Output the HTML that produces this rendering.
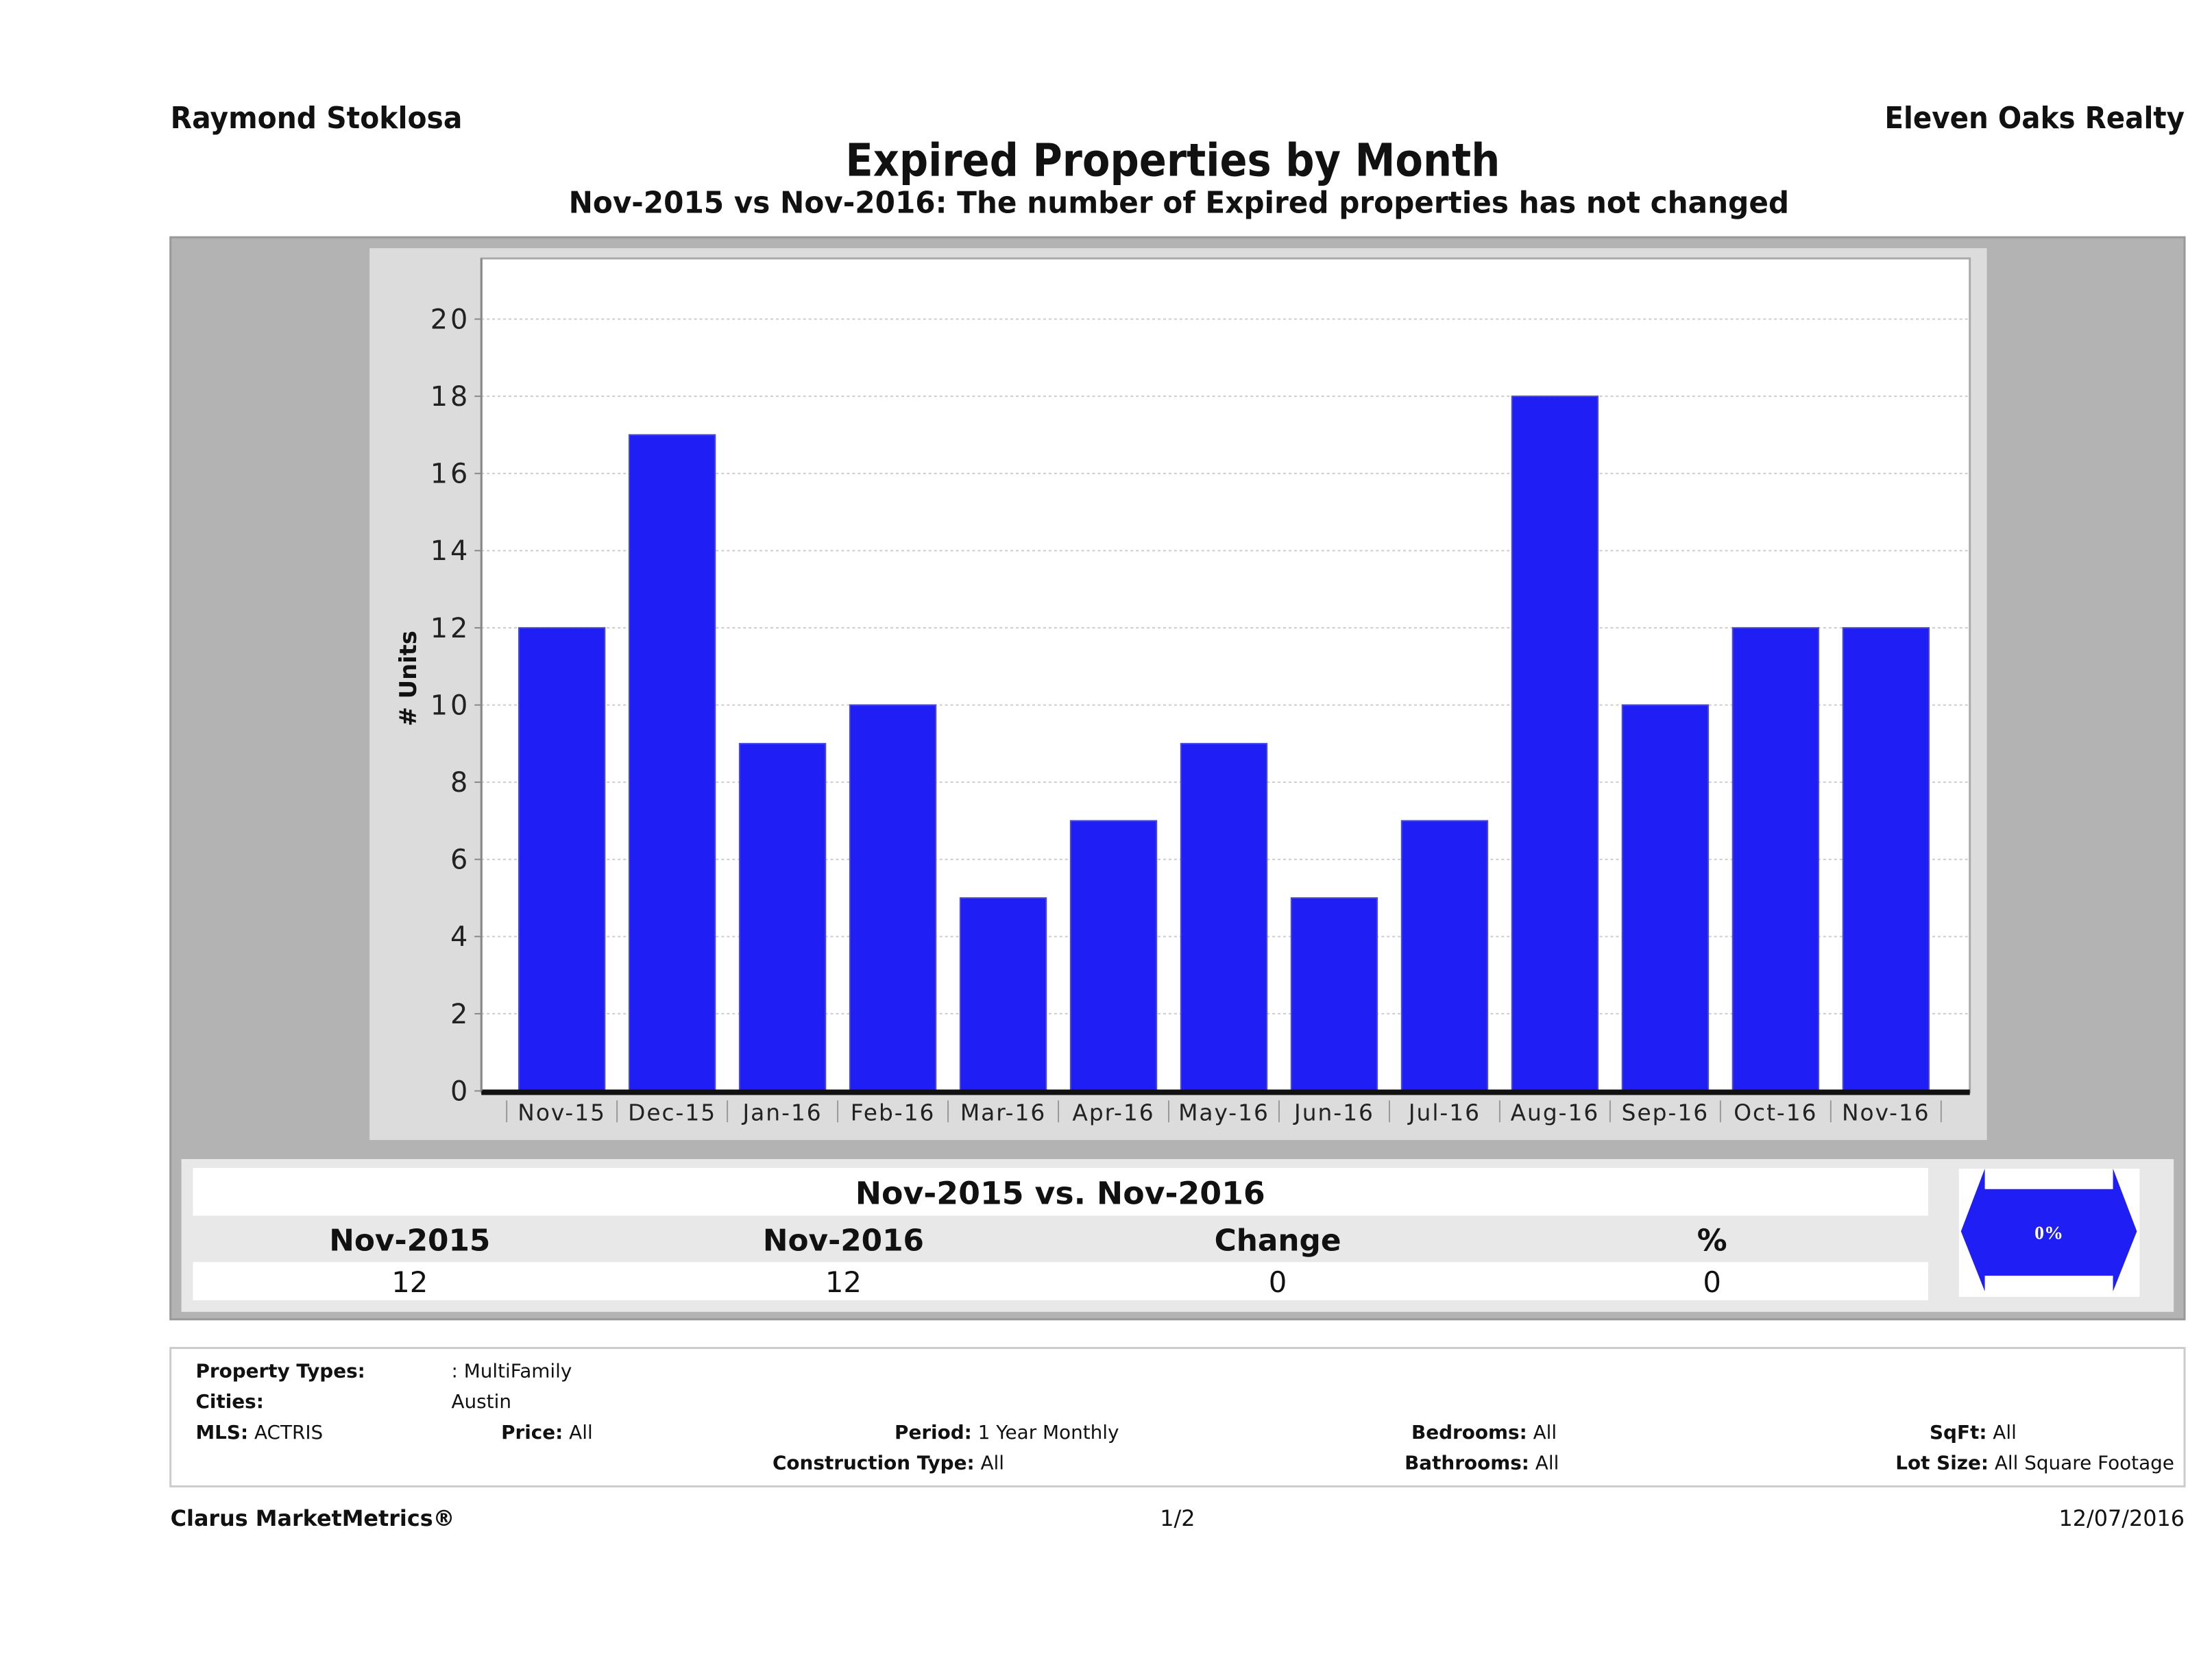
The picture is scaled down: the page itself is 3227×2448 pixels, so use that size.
<!DOCTYPE html>
<html><head><meta charset="utf-8"><style>
html,body{margin:0;padding:0;background:#fff;}
svg{display:block;font-family:"DejaVu Sans","Liberation Sans",sans-serif;}
</style></head><body>
<svg id="root" width="3227" height="2448" viewBox="0 0 3227 2448" xmlns="http://www.w3.org/2000/svg">
<g transform="scale(0.9947)">
<text x="250" y="188" font-size="44" font-weight="bold" fill="#111" textLength="428" lengthAdjust="spacingAndGlyphs">Raymond Stoklosa</text>
<text x="3204" y="188" font-size="44" font-weight="bold" fill="#111" text-anchor="end" textLength="440" lengthAdjust="spacingAndGlyphs">Eleven Oaks Realty</text>
<text x="1720" y="258" font-size="66" font-weight="bold" fill="#111" text-anchor="middle" textLength="960" lengthAdjust="spacingAndGlyphs">Expired Properties by Month</text>
<text x="1729" y="312" font-size="44" font-weight="bold" fill="#111" text-anchor="middle" textLength="1790" lengthAdjust="spacingAndGlyphs">Nov-2015 vs Nov-2016: The number of Expired  properties has not changed</text>

<rect x="250" y="348" width="2954" height="1587" fill="#b3b3b3" stroke="#999" stroke-width="3"/>
<rect x="542" y="364" width="2372" height="1308" fill="#dcdcdc"/>
<rect x="706" y="379" width="2183" height="1223" fill="#fff" stroke="#aaa" stroke-width="3"/>
<g id="grid"></g>
<g id="bars"></g>
<g id="axes"></g>
<text transform="translate(610,995) rotate(-90)" font-size="34" font-weight="bold" fill="#111" text-anchor="middle"># Units</text>

<rect x="266" y="1700" width="2922" height="224" fill="#e8e8e8"/>
<rect x="283" y="1713" width="2545" height="70" fill="#fff"/>
<text x="1555" y="1766" font-size="46" font-weight="bold" fill="#111" text-anchor="middle">Nov-2015 vs. Nov-2016</text>
<text x="601" y="1834" font-size="44" font-weight="bold" fill="#111" text-anchor="middle">Nov-2015</text>
<text x="1237" y="1834" font-size="44" font-weight="bold" fill="#111" text-anchor="middle">Nov-2016</text>
<text x="1874" y="1834" font-size="44" font-weight="bold" fill="#111" text-anchor="middle">Change</text>
<text x="2511" y="1834" font-size="44" font-weight="bold" fill="#111" text-anchor="middle">%</text>
<rect x="283" y="1851" width="2545" height="56" fill="#fff"/>
<text x="601" y="1895" font-size="42" fill="#111" text-anchor="middle">12</text>
<text x="1237" y="1895" font-size="42" fill="#111" text-anchor="middle">12</text>
<text x="1874" y="1895" font-size="42" fill="#111" text-anchor="middle">0</text>
<text x="2511" y="1895" font-size="42" fill="#111" text-anchor="middle">0</text>
<g transform="translate(17,9)">
<rect x="2856" y="1705" width="265" height="188" fill="#fff"/>
<polygon points="2894,1705 2894,1735 3082,1735 3082,1705 3117,1797 3082,1885 3082,1862 2894,1862 2894,1885 2859,1797" fill="#1e1ef5"/>
<text x="2988" y="1808" font-size="28" font-weight="bold" fill="#fff" text-anchor="middle" font-family="Liberation Serif, serif">0%</text>
</g>

<rect x="250" y="1977" width="2954" height="203" fill="#fff" stroke="#ccc" stroke-width="3"/>
<g font-size="28" fill="#111">
<text x="287" y="2020" font-weight="bold">Property Types:</text>
<text x="662" y="2020">: MultiFamily</text>
<text x="287" y="2065" font-weight="bold">Cities:</text>
<text x="662" y="2065">Austin</text>
<text x="287" y="2110"><tspan font-weight="bold">MLS:</tspan>  ACTRIS</text>
<text x="735" y="2110"><tspan font-weight="bold">Price:</tspan> All</text>
<text x="1312" y="2110"><tspan font-weight="bold">Period:</tspan> 1 Year Monthly</text>
<text x="2070" y="2110"><tspan font-weight="bold">Bedrooms:</tspan> All</text>
<text x="2830" y="2110"><tspan font-weight="bold">SqFt:</tspan>  All</text>
<text x="1133" y="2155"><tspan font-weight="bold">Construction Type:</tspan> All</text>
<text x="2060" y="2155"><tspan font-weight="bold">Bathrooms:</tspan> All</text>
<text x="2780" y="2155"><tspan font-weight="bold">Lot Size:</tspan>  All Square Footage</text>
</g>
<text x="250" y="2238" font-size="32" font-weight="bold" fill="#111">Clarus MarketMetrics®</text>
<text x="1727" y="2238" font-size="32" fill="#111" text-anchor="middle">1/2</text>
<text x="3204" y="2238" font-size="32" fill="#111" text-anchor="end">12/07/2016</text>
</g>
</svg>
<script>
const categories = ["Nov-15","Dec-15","Jan-16","Feb-16","Mar-16","Apr-16","May-16","Jun-16","Jul-16","Aug-16","Sep-16","Oct-16","Nov-16"];
const values = [12,17,9,10,5,7,9,5,7,18,10,12,12];
const yTicks = [0,2,4,6,8,10,12,14,16,18,20];
const NS="http://www.w3.org/2000/svg";
const plotL=706, plotR=2889, y0=1600, y20=468;
function yScale(v){return y0-(v/20)*(y0-y20);}
const firstC=824, lastC=2766;
function xScale(i){return firstC+i*(lastC-firstC)/(categories.length-1);}
const step=(lastC-firstC)/(categories.length-1), bw=126;
function mk(tag,attrs,parent){const e=document.createElementNS(NS,tag);for(const k in attrs)e.setAttribute(k,attrs[k]);parent.appendChild(e);return e;}
const grid=document.getElementById('grid'), bars=document.getElementById('bars'), axes=document.getElementById('axes');
yTicks.forEach(t=>{
  const y=yScale(t);
  if(t>0){const g=mk('line',{x1:plotL,x2:plotR,y1:y,y2:y,stroke:'#ccc','stroke-width':2,'stroke-dasharray':'4,4'},grid);
  
  }
  const tk=mk('line',{x1:plotL-10,x2:plotL,y1:y,y2:y,stroke:'#888','stroke-width':2},axes);
  
  
  const tl=mk('text',{x:plotL-16,y:y+14,'font-size':40,'text-anchor':'end',fill:'#222','letter-spacing':4},axes);
  tl.textContent=t;
  
  
});
values.forEach((v,i)=>{
  const cx=xScale(i);
  const r=mk('rect',{x:cx-bw/2,y:yScale(v),width:bw,height:y0-yScale(v),fill:'#1e1ef5',stroke:'#4a4ad8','stroke-width':2},bars);
  
  
  const sep=mk('line',{x1:cx-step/2,x2:cx-step/2,y1:y0+14,y2:y0+46,stroke:'#999','stroke-width':2},axes);
  
  
  const lb=mk('text',{x:cx,y:y0+43,'font-size':33,'text-anchor':'middle',fill:'#222','letter-spacing':2},axes);
  lb.textContent=categories[i];
  
  
});
const lastSep=mk('line',{x1:xScale(categories.length-1)+step/2,x2:xScale(categories.length-1)+step/2,y1:y0+14,y2:y0+46,stroke:'#999','stroke-width':2},axes);


const ax=mk('line',{x1:plotL,x2:plotR,y1:y0+2,y2:y0+2,stroke:'#111','stroke-width':8},axes);


const yax=mk('line',{x1:plotL,x2:plotL,y1:379,y2:y0,stroke:'#888','stroke-width':3},axes);


</script>
</body></html>
